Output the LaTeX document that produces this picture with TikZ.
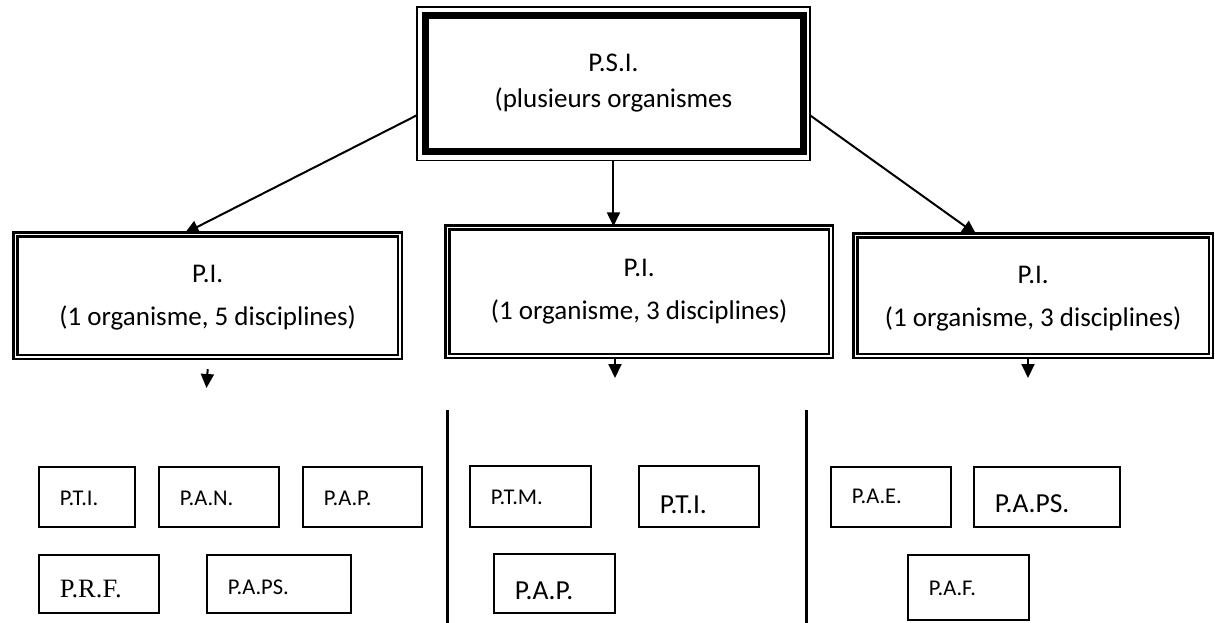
\documentclass[tikz,border=0pt]{standalone}
\usepackage{fontspec}
\setmainfont{Carlito}
\newfontfamily\serifface{Liberation Serif}
\usetikzlibrary{arrows.meta,calc}
\newcommand\lowr[2]{\raisebox{-#1}[\height][\depth]{#2}}
\begin{document}
\begin{tikzpicture}[x=1pt,y=-1pt,
  pibox/.style={draw, double, double distance=1.8pt, line width=2.4pt, anchor=north west, inner sep=0pt, align=center, font=\fontsize{27}{43}\selectfont},
  sbox/.style={draw, line width=1.6pt, anchor=north west, inner xsep=21pt, inner ysep=0pt, align=left},
  ssm/.style={font=\fontsize{22.5}{26}\selectfont},
  slg/.style={font=\fontsize{27.5}{32}\selectfont},
  sser/.style={font=\serifface\fontsize{26.5}{30}\selectfont},
  arr/.style={line width=2pt, -{Triangle[length=14pt,width=13pt]}},
  sepline/.style={line width=3pt}]
\useasboundingbox (0,0) rectangle (1215,623);

% top box
\node[anchor=north west, minimum width=392.5pt, minimum height=153pt, inner sep=0pt, align=center, font=\fontsize{27}{35}\selectfont] (psi) at (417,7) {\lowr{-1.5pt}{P.S.I.}\\(plusieurs organismes};
\draw[line width=1.2pt] (psi.north west) rectangle (psi.south east);
\draw[line width=7.5pt] ($(psi.north west)+(8.5,8.5)$) rectangle ($(psi.south east)+(-6.5,-9)$);

% P.I. boxes
\node[pibox, minimum width=384.4pt, minimum height=122.4pt] (piL) at (14.3,233.3) {\lowr{2pt}{P.I.}\\\lowr{2pt}{(1 organisme, 5 disciplines)}};
\node[pibox, minimum width=383.4pt, minimum height=128.4pt] (piM) at (446.3,226.3) {P.I.\\(1 organisme, 3 disciplines)};
\node[pibox, minimum width=355.4pt, minimum height=120.4pt] (piR) at (854.3,234.3) {\lowr{3pt}{P.I.}\\\lowr{3pt}{(1 organisme, 3 disciplines)}};

% arrows from top
\draw[arr] ([yshift=-31.5pt]psi.west) -- ([xshift=-23pt]piL.north);
\draw[arr] (psi.south) -- (psi.south |- piM.north);
\draw[arr] ([yshift=-31.5pt]psi.east) -- ([xshift=-57pt]piR.north);

% small arrows
\coordinate (eL) at (206.5,388);
\coordinate (eM) at (615,378);
\coordinate (eR) at (1028,378);
\draw[arr] ([yshift=-11pt]piL.south) -- (eL);
\draw[arr] (piM.south -| eM) -- (eM);
\draw[arr] (piR.south -| eR) -- (eR);

% separators
\coordinate (s1a) at (447,410); \coordinate (s1b) at (447,623);
\coordinate (s2a) at (806,410); \coordinate (s2b) at (806,623);
\draw[sepline] (s1a) -- (s1b);
\draw[sepline] (s2a) -- (s2b);

% left group
\node[sbox, ssm, minimum height=60pt, text width=54pt] (pti1) at (38,466) {\lowr{2pt}{P.T.I.}};
\node[sbox, ssm, minimum height=60pt, text width=78pt] (pan) at (158,466) {\lowr{2pt}{P.A.N.}};
\node[sbox, ssm, minimum height=60pt, text width=77pt] (pap1) at (302,466) {\lowr{2pt}{P.A.P.}};
\node[sbox, sser, minimum height=58pt, text width=78pt] (prf) at (38,554) {\lowr{5pt}{P.R.F.}};
\node[sbox, ssm, minimum height=58pt, text width=102pt] (paps1) at (206,554) {\lowr{3pt}{P.A.PS.}};

% middle group
\node[sbox, ssm, minimum height=61pt, text width=79pt] (ptm) at (469,465) {\lowr{1.5pt}{P.T.M.}};
\node[sbox, slg, minimum height=61pt, text width=78pt] (pti2) at (638,465) {\lowr{8pt}{P.T.I.}};
\node[sbox, slg, minimum height=59pt, text width=79pt] (pap2) at (493,553) {\lowr{7.5pt}{P.A.P.}};

% right group
\node[sbox, ssm, minimum height=60pt, text width=78pt] (pae) at (830,466) {\lowr{0pt}{P.A.E.}};
\node[sbox, slg, minimum height=60pt, text width=104pt] (paps2) at (973,466) {\lowr{7pt}{P.A.PS.}};
\node[sbox, ssm, minimum height=65pt, text width=79pt] (paf) at (907,554) {\lowr{1.5pt}{P.A.F.}};
\end{tikzpicture}
\end{document}
